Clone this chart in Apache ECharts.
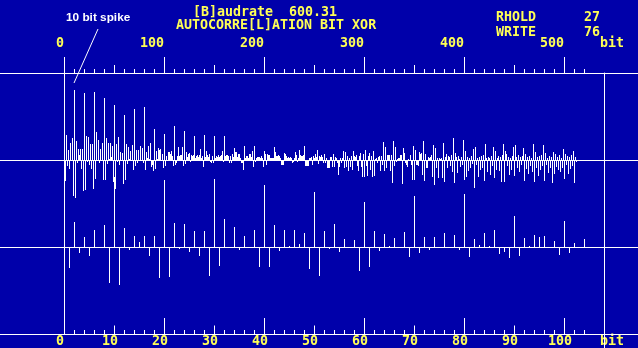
<!DOCTYPE html>
<html><head><meta charset="utf-8">
<script src="https://cdn.jsdelivr.net/npm/echarts@6/dist/echarts.min.js"></script>
<style>html,body{margin:0;padding:0;background:#0000AA;overflow:hidden}#c{width:638px;height:348px}</style>
</head><body><div id="c"></div>
<script>
// autocorrelation per lag (bit), lags 1..104 (shown in both panels)
const zoomLags = [
 -21, 25, -6, 10, -9, 17, 0, 22, -36, 70,
 -38, 19, -3, 11, 5, 11, -9, 11, -31, 67,
 -30, 24, -2, 23, -5, 16, -9, 16, -29, 68,
 -19, 28, 0, 20, -3, 11, 0, 17, -20, 62,
 -20, 22, -4, 17, 1, 17, 3, 14, -22, 55,
 -29, 16, -2, 23, -5, 8, -1, 7, -24, 45,
 -20, 16, -4, 13, 1, 9, -1, 15, -10, 51,
 -6, 10, -3, 10, -1, 14, 0, 12, -3, 53,
 -10, 8, 2, 14, 1, 17, -7, -5, -11, 31,
 -9, 9, 1, 12, 10, 11, 0, 6, -8, 26,
 -6, 4, -1, 8
];
// lags 105..512 (overview panel only)
const tailLags = [
 8, 6, 9, 4, -6, 34,
 -5, -3, 4, 13, 4, 5, 5, 13, -6, 29,
 -4, 8, 3, 6, 7, -2, 5, 4, 5, 24,
 2, 4, 5, 3, 5, 11, 2, 4, -7, 25,
 3, 9, 5, 3, 6, -2, -3, 4, -3, 24,
 2, 4, 3, 5, 3, 4, 5, 9, -2, 24,
 4, 5, 5, 4, -3, 4, -3, 6, 3, 12,
 8, 8, 3, 6, 6, 2, -3, -3, -10, 14,
 2, 4, 4, 2, 6, 6, 3, 9, -7, 14,
 -2, 2, 3, 3, 3, 2, 4, 2, -7, 9,
 6, -5, 6, 5, 5, 2, 2, 2, 2, 13,
 8, 4, 4, 5, 4, 2, -5, -5, -5, 7,
 6, 4, 2, 3, 2, 3, 2, -3, -2, 2,
 8, 5, -2, 2, 10, 5, 4, 4, 5, 14,
 -6, -6, -6, -6, 2, 2, 3, -5, 4, 2,
 6, 3, 10, -4, 4, 3, 5, 3, -3, 6,
 -3, 2, -8, -8, -8, 3, 3, -7, 6, -7,
 3, 2, -3, -15, -7, 2, -3, 2, 9, -8,
 8, -7, 4, -11, 2, -7, 4, -10, 9, 4,
 3, 5, -6, -11, 4, 7, -7, -17, 6, -17,
 10, -6, -16, 4, 7, -10, 4, -17, 9, -16,
 1, 2, -3, 3, 4, -11, 4, -5, 18, -11,
 13, -8, 5, 5, 5, -11, 5, -23, 19, -6,
 13, -2, 1, 2, 2, 5, 5, -24, 12, 7,
 -3, -5, -7, 1, -1, 5, -5, -20, 14, -20,
 10, -5, -5, -6, 8, 6, 7, -15, 19, -21,
 6, -8, -8, 3, 2, 3, 5, -17, 15, -25,
 12, -8, 2, -18, 2, 1, 2, -18, 17, -22,
 3, 6, -8, 4, 3, -6, 5, -12, 22, -23,
 7, 3, -13, 4, 1, -7, 3, -5, 20, -20,
 9, -17, 3, -11, 2, -8, 4, -4, 11, -28,
 13, -5, 2, -17, 3, -10, 4, -8, 5, -21,
 16, 2, -12, 3, 2, -15, 4, -6, 13, -18,
 9, -10, 2, 4, -11, 3, -22, 5, 16, -22,
 9, 6, -6, 3, -15, 2, -10, 4, 13, -16,
 15, 3, -8, 5, -12, 3, -5, 4, 12, -21,
 6, -9, 3, -14, 4, -6, 2, -12, 16, -22,
 8, -8, 3, -16, 4, -10, 5, -6, 15, -21,
 7, -5, 2, -13, 4, -8, 3, -23, 8, -14,
 6, -7, 3, -10, 5, -12, 2, -8, 11, -19,
 6, -5, 4, -14, 3, -9, 5, -6, 9, -23,
 3, -2
];
const topTickLabels = [0, 100, 200, 300, 400, 500];
const bottomTickLabels = [0, 10, 20, 30, 40, 50, 60, 70, 80, 90, 100];
const headerLines = ['[B]audrate  600.31', 'AUTOCORRE[L]ATION BIT XOR'];
const statusNames = ['RHOLD', 'WRITE'];
const statusValues = ['27', '76'];
const unitLabel = 'bit';
const annotationText = '10 bit spike';
const annotatedLag = 10;

const BLUE = '#0000AA', YEL = '#FFFF55', WHITE = '#FFFFFF';
const MONO = 'bold 13.3px "DejaVu Sans Mono", monospace';
const allLags = zoomLags.concat(tailLags);
const overviewData = allLags.map((v, i) => [i + 1, v]);
const zoomData = zoomLags.map((v, i) => [i + 1, v]);

const chart = echarts.init(document.getElementById('c'), null, {renderer: 'canvas', width: 638, height: 348});

const tickStyle = {color: WHITE, width: 1};
function tickAxis(grid, pos, max, interval, len, label) {
  return {
    gridIndex: grid, type: 'value', position: pos, min: 0, max: max, interval: interval,
    axisLine: {show: false, onZero: false},
    axisTick: {show: true, inside: pos === 'bottom', length: len, lineStyle: tickStyle},
    splitLine: {show: false},
    axisLabel: label || {show: false}
  };
}
const hiddenY = g => ({gridIndex: g, type: 'value', min: 0, max: 1, show: false});
const labelFont = {color: YEL, fontFamily: '"DejaVu Sans Mono", monospace', fontWeight: 'bold', fontSize: 13.3};

// one pixel-wide spike per lag, positioned through the grid's axes
function spike(params, api) {
  const lag = api.value(0), v = api.value(1);
  const p0 = api.coord([lag, 0]);
  const p1 = api.coord([lag, v]);
  const x = Math.floor(p0[0] + 0.001);
  const y = Math.round(Math.min(p0[1], p1[1]));
  const h = Math.round(Math.abs(p1[1] - p0[1]));
  return {type: 'rect', shape: {x: x, y: y, width: 1, height: h}, style: {fill: WHITE}};
}

chart.setOption({
  backgroundColor: BLUE,
  animation: false,
  grid: [
    {left: 0, right: 0, top: 73, height: 261},
    {left: 64, width: 520, top: 73, height: 174},
    {left: 64, width: 520, top: 160, height: 174},
    {left: 64, right: 34, top: 73, bottom: 0},
    {left: 64, width: 500, top: 73, height: 261},
    {left: 64, width: 450, top: 73, height: 261},
    {left: 64, width: 520, top: 73, height: 261},
    {left: 64, width: 500, top: 73, height: 261}
  ],
  xAxis: [
    {gridIndex: 0, type: 'value', min: 0, max: 1, show: false},
    {gridIndex: 1, type: 'value', min: 0, max: 520, show: false},
    {gridIndex: 2, type: 'value', min: 0, max: 104, show: false},
    {gridIndex: 3, type: 'value', min: 0, max: 1, show: false},
    tickAxis(4, 'top', 500, 100, 16, Object.assign({show: true, margin: 29, align: 'right', verticalAlign: 'middle',
      customValues: topTickLabels}, labelFont)),
    tickAxis(4, 'bottom', 100, 20, 16),
    tickAxis(5, 'top', 450, 50, 8),
    tickAxis(6, 'top', 520, 10, 4),
    tickAxis(6, 'bottom', 104, 2, 4),
    tickAxis(7, 'bottom', 100, 10, 8, Object.assign({show: true, margin: 8, align: 'center', verticalAlign: 'middle', padding: [0, 8, 0, 0],
      customValues: bottomTickLabels}, labelFont))
  ],
  yAxis: [
    {gridIndex: 0, type: 'value', min: 0, max: 3, interval: 1, axisLine: {show: false}, axisTick: {show: false}, axisLabel: {show: false},
      splitLine: {show: true, lineStyle: {color: WHITE, width: 1, type: 'solid'}}},
    {gridIndex: 1, type: 'value', min: -87, max: 87, axisLine: {show: true, onZero: false, lineStyle: {color: WHITE, width: 1}},
      axisTick: {show: false}, axisLabel: {show: false}, splitLine: {show: false}},
    {gridIndex: 2, type: 'value', min: -87, max: 87, axisLine: {show: true, onZero: false, lineStyle: {color: WHITE, width: 1}},
      axisTick: {show: false}, axisLabel: {show: false}, splitLine: {show: false}},
    {gridIndex: 3, type: 'value', position: 'right', min: 0, max: 1, axisLine: {show: true, onZero: false, lineStyle: {color: WHITE, width: 1}},
      axisTick: {show: false}, axisLabel: {show: false}, splitLine: {show: false}},
    hiddenY(4), hiddenY(5), hiddenY(6), hiddenY(7)
  ],
  series: [
    {type: 'custom', xAxisIndex: 1, yAxisIndex: 1, data: overviewData, renderItem: spike, silent: true, encode: {x: 0, y: 1}},
    {type: 'custom', xAxisIndex: 2, yAxisIndex: 2, data: zoomData, renderItem: spike, silent: true, encode: {x: 0, y: 1}}
  ],
  graphic: [
    {type: 'text', x: 193, y: 12.5, style: {text: headerLines[0], font: MONO, fill: YEL, verticalAlign: 'middle'}},
    {type: 'text', x: 176, y: 26, style: {text: headerLines[1], font: MONO, fill: YEL, verticalAlign: 'middle'}},
    {type: 'text', x: 496, y: 18, style: {text: statusNames[0], font: MONO, fill: YEL, verticalAlign: 'middle'}},
    {type: 'text', x: 584, y: 18, style: {text: statusValues[0], font: MONO, fill: YEL, verticalAlign: 'middle'}},
    {type: 'text', x: 496, y: 33, style: {text: statusNames[1], font: MONO, fill: YEL, verticalAlign: 'middle'}},
    {type: 'text', x: 584, y: 33, style: {text: statusValues[1], font: MONO, fill: YEL, verticalAlign: 'middle'}},
    {type: 'text', x: 600, y: 44, style: {text: unitLabel, font: MONO, fill: YEL, verticalAlign: 'middle'}},
    {type: 'text', x: 600, y: 342, style: {text: unitLabel, font: MONO, fill: YEL, verticalAlign: 'middle'}},
    {type: 'text', x: 66, y: 17.5, style: {text: annotationText, font: 'bold 11.8px "Liberation Sans", Arial, sans-serif', fill: WHITE, verticalAlign: 'middle'}}
  ]
});

const tip = chart.convertToPixel({gridIndex: 1}, [annotatedLag, allLags[annotatedLag - 1]]);
chart.setOption({graphic: [{id: 'spikeLine', type: 'line', shape: {x1: 98, y1: 29, x2: tip[0], y2: tip[1] - 7}, style: {stroke: WHITE, lineWidth: 1}}]});
</script>
</body></html>
